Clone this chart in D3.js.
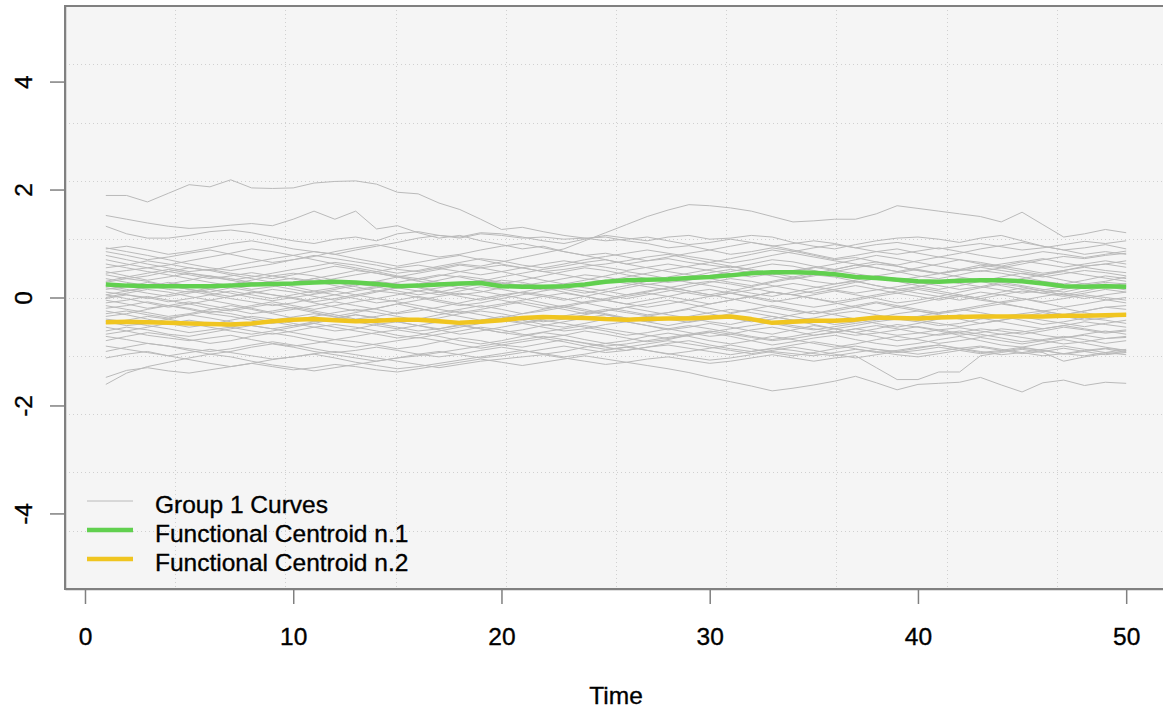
<!DOCTYPE html>
<html>
<head>
<meta charset="utf-8">
<script src="https://cdn.jsdelivr.net/npm/d3@7"></script>
<style>
  html, body { margin: 0; padding: 0; background: #ffffff; }
  svg { display: block; }
  text { font-family: "Liberation Sans", Arial, sans-serif; fill: #000; }
</style>
</head>
<body>
<svg id="chart" width="1163" height="713"></svg>
<script>
// Time grid of the functional observations
const time = d3.range(1, 51);

// Group 1 curves (one row per observed curve, values at Time = 1..50)
const groupCurves = [
  [1.89,1.89,1.77,1.93,2.09,2.05,2.18,2.03,2.02,2.03, 2.12,2.15,2.16,2.10,1.95,1.92,1.75,1.63,1.45,1.26, 1.30,1.22,1.15,1.10,1.12,1.05,1.00,0.92,0.96,0.88, 0.80,0.85,0.92,0.86,0.78,0.70,0.74,0.66,0.60,0.68, 0.75,0.70,0.62,0.58,0.66,0.72,0.64,0.58,0.62,0.56],
  [1.52,1.45,1.38,1.32,1.28,1.30,1.34,1.37,1.33,1.45, 1.60,1.45,1.60,1.27,1.33,1.20,1.10,1.15,1.05,0.98, 0.90,0.95,0.85,0.78,0.82,0.75,0.68,0.72,0.65,0.60, 0.55,0.62,0.70,0.66,0.58,0.52,0.60,0.66,0.58,0.50, 0.45,0.52,0.60,0.55,0.48,0.42,0.50,0.56,0.50,0.46],
  [1.32,1.18,1.10,1.10,1.15,1.22,1.25,1.20,1.12,1.05, 1.00,1.08,1.12,1.05,1.18,1.22,1.15,1.10,1.18,1.15, 1.10,1.12,1.08,1.10,1.05,1.08,1.12,1.05,0.98,1.02, 1.08,1.02,0.95,1.00,1.05,1.00,0.92,0.98,1.02,0.96, 0.90,0.95,1.00,0.94,0.88,0.92,0.98,1.04,1.00,1.05],
  [0.92,0.85,0.78,0.70,0.62,0.55,0.50,0.56,0.62,0.70, 0.78,0.72,0.66,0.60,0.52,0.48,0.55,0.62,0.58,0.66, 0.74,0.82,0.90,1.05,1.20,1.35,1.50,1.62,1.72,1.70, 1.66,1.60,1.50,1.40,1.42,1.45,1.45,1.55,1.70,1.65, 1.60,1.55,1.50,1.40,1.58,1.35,1.12,1.18,1.26,1.20],
  [0.90,0.95,0.88,0.80,0.85,0.92,1.00,1.05,0.98,0.90, 0.85,0.80,0.88,0.95,1.02,1.10,1.15,1.12,1.20,1.18, 1.12,1.05,1.00,1.08,1.15,1.10,1.05,1.12,1.15,1.08, 1.10,1.15,1.12,1.02,0.95,0.90,0.98,1.05,1.10,1.12, 1.08,1.02,1.10,1.15,1.05,0.95,0.88,0.92,0.98,0.90],
  [0.85,0.78,0.70,0.75,0.82,0.88,0.80,0.72,0.65,0.70, 0.76,0.85,0.92,0.98,0.90,0.82,0.75,0.80,0.88,0.95, 1.00,0.92,0.85,0.78,0.70,0.62,0.68,0.75,0.82,0.88, 0.95,1.02,0.96,0.88,0.80,0.72,0.78,0.85,0.90,0.82, 0.75,0.82,0.90,0.96,1.02,0.95,0.88,0.80,0.85,0.80],
  [0.78,0.70,0.62,0.55,0.48,0.52,0.45,0.40,0.35,0.42, 0.50,0.58,0.52,0.45,0.38,0.32,0.40,0.48,0.55,0.60, 0.55,0.48,0.42,0.35,0.30,0.38,0.45,0.52,0.58,0.65, 0.72,0.80,0.88,0.82,0.75,0.68,0.62,0.55,0.48,0.40, 0.35,0.42,0.50,0.45,0.38,0.30,0.25,0.32,0.40,0.35],
  [0.70,0.62,0.55,0.60,0.68,0.75,0.82,0.90,0.85,0.78, 0.70,0.62,0.55,0.48,0.40,0.35,0.28,0.22,0.30,0.38, 0.45,0.52,0.58,0.65,0.70,0.62,0.55,0.48,0.42,0.35, 0.28,0.22,0.30,0.38,0.45,0.52,0.60,0.55,0.48,0.55, 0.62,0.70,0.65,0.58,0.52,0.45,0.50,0.58,0.62,0.68],
  [0.62,0.55,0.48,0.42,0.35,0.28,0.22,0.15,0.20,0.28, 0.35,0.42,0.50,0.45,0.38,0.30,0.25,0.18,0.12,0.05, 0.10,0.18,0.25,0.32,0.40,0.48,0.42,0.35,0.28,0.22, 0.15,0.08,0.02,0.10,0.18,0.25,0.30,0.22,0.15,0.08, 0.02,-0.05,0.02,0.10,0.18,0.12,0.05,-0.02,0.05,0.10],
  [0.55,0.60,0.68,0.62,0.55,0.50,0.58,0.65,0.72,0.78, 0.85,0.80,0.72,0.65,0.58,0.65,0.72,0.78,0.70,0.62, 0.55,0.48,0.52,0.58,0.62,0.68,0.75,0.80,0.72,0.65, 0.58,0.50,0.42,0.48,0.55,0.62,0.70,0.78,0.72,0.65, 0.58,0.52,0.48,0.55,0.62,0.70,0.76,0.72,0.78,0.82],
  [0.48,0.40,0.32,0.38,0.45,0.40,0.32,0.25,0.30,0.36, 0.30,0.22,0.15,0.20,0.28,0.35,0.42,0.38,0.30,0.25, 0.32,0.40,0.48,0.55,0.50,0.42,0.35,0.28,0.32,0.40, 0.48,0.55,0.62,0.58,0.50,0.42,0.35,0.40,0.46,0.52, 0.45,0.38,0.32,0.28,0.35,0.42,0.48,0.42,0.36,0.30],
  [0.42,0.35,0.40,0.48,0.55,0.50,0.42,0.35,0.28,0.20, 0.12,0.18,0.25,0.20,0.12,0.05,0.10,0.18,0.25,0.32, 0.28,0.20,0.15,0.08,0.15,0.22,0.30,0.38,0.45,0.52, 0.58,0.52,0.45,0.38,0.30,0.25,0.32,0.40,0.35,0.28, 0.22,0.15,0.20,0.28,0.22,0.15,0.10,0.18,0.25,0.20],
  [0.35,0.28,0.22,0.15,0.10,0.18,0.25,0.32,0.40,0.45, 0.40,0.32,0.25,0.30,0.38,0.45,0.52,0.60,0.55,0.48, 0.40,0.32,0.25,0.18,0.12,0.05,0.10,0.18,0.25,0.30, 0.25,0.18,0.10,0.05,0.12,0.20,0.28,0.35,0.30,0.22, 0.15,0.22,0.30,0.38,0.45,0.40,0.32,0.25,0.30,0.38],
  [0.28,0.35,0.30,0.22,0.15,0.08,0.02,0.08,0.15,0.10, 0.02,-0.05,0.02,0.10,0.18,0.12,0.05,0.12,0.20,0.15, 0.08,0.02,-0.05,0.02,0.10,0.18,0.25,0.20,0.12,0.05, 0.12,0.20,0.28,0.35,0.42,0.38,0.30,0.22,0.15,0.20, 0.28,0.35,0.30,0.22,0.15,0.08,0.15,0.22,0.28,0.25],
  [0.22,0.15,0.08,0.02,0.08,0.15,0.22,0.28,0.22,0.15, 0.08,0.15,0.22,0.30,0.25,0.18,0.10,0.02,-0.05,0.02, 0.10,0.05,-0.02,-0.10,-0.05,0.02,0.08,0.02,-0.05,-0.12, -0.05,0.02,0.10,0.05,-0.02,-0.08,-0.02,0.05,0.12,0.18, 0.12,0.05,-0.02,0.05,0.12,0.08,0.02,0.08,0.15,0.10],
  [0.15,0.20,0.28,0.22,0.15,0.10,0.18,0.12,0.05,0.00, -0.08,-0.02,0.05,0.12,0.08,0.00,-0.08,-0.15,-0.10,-0.02, 0.05,0.12,0.18,0.12,0.05,-0.02,0.05,0.12,0.20,0.28, 0.35,0.30,0.22,0.15,0.08,0.15,0.22,0.15,0.08,0.02, -0.05,0.02,0.10,0.05,-0.02,-0.08,-0.02,0.05,0.00,-0.05],
  [0.10,0.05,-0.02,0.05,0.12,0.05,-0.02,-0.08,-0.15,-0.10, -0.02,0.05,0.12,0.18,0.25,0.20,0.12,0.05,0.10,0.18, 0.25,0.18,0.10,0.02,-0.05,-0.12,-0.05,0.02,0.10,0.15, 0.08,0.00,-0.08,-0.02,0.05,0.12,0.05,-0.02,-0.10,-0.05, 0.02,0.10,0.18,0.25,0.20,0.12,0.05,0.12,0.20,0.26],
  [0.05,-0.02,-0.10,-0.18,-0.12,-0.05,0.02,0.10,0.05,-0.02, -0.10,-0.18,-0.25,-0.20,-0.12,-0.05,0.02,0.08,0.02,-0.05, -0.12,-0.20,-0.15,-0.08,-0.02,0.05,0.12,0.18,0.12,0.05, -0.02,-0.10,-0.18,-0.25,-0.30,-0.22,-0.15,-0.08,-0.15,-0.22, -0.28,-0.22,-0.15,-0.08,-0.02,-0.10,-0.18,-0.12,-0.05,0.00],
  [0.00,0.08,0.15,0.10,0.02,-0.05,-0.12,-0.20,-0.28,-0.22, -0.15,-0.08,-0.15,-0.22,-0.30,-0.25,-0.18,-0.10,-0.02,0.05, -0.02,-0.10,-0.18,-0.25,-0.32,-0.40,-0.35,-0.28,-0.20,-0.12, -0.05,0.02,0.10,0.05,-0.02,-0.10,-0.18,-0.25,-0.18,-0.10, -0.02,0.05,-0.02,-0.10,-0.18,-0.25,-0.32,-0.25,-0.18,-0.22],
  [-0.05,-0.12,-0.20,-0.15,-0.08,-0.15,-0.22,-0.30,-0.25,-0.18, -0.25,-0.32,-0.40,-0.35,-0.28,-0.20,-0.28,-0.35,-0.42,-0.38, -0.30,-0.22,-0.15,-0.22,-0.30,-0.38,-0.45,-0.52,-0.45,-0.38, -0.30,-0.22,-0.28,-0.35,-0.42,-0.50,-0.45,-0.38,-0.30,-0.25, -0.32,-0.40,-0.48,-0.42,-0.35,-0.28,-0.35,-0.42,-0.38,-0.32],
  [-0.10,-0.05,0.02,-0.05,-0.12,-0.20,-0.25,-0.18,-0.12,-0.20, -0.28,-0.35,-0.28,-0.20,-0.12,-0.20,-0.28,-0.22,-0.15,-0.22, -0.30,-0.25,-0.18,-0.10,-0.18,-0.25,-0.32,-0.28,-0.22,-0.30, -0.38,-0.45,-0.40,-0.32,-0.25,-0.32,-0.40,-0.48,-0.55,-0.48, -0.40,-0.32,-0.38,-0.45,-0.52,-0.58,-0.52,-0.45,-0.50,-0.55],
  [-0.15,-0.22,-0.28,-0.35,-0.30,-0.22,-0.15,-0.22,-0.30,-0.38, -0.45,-0.40,-0.32,-0.38,-0.45,-0.52,-0.58,-0.50,-0.42,-0.35, -0.42,-0.50,-0.55,-0.48,-0.40,-0.45,-0.52,-0.60,-0.55,-0.48, -0.55,-0.62,-0.68,-0.60,-0.52,-0.58,-0.65,-0.58,-0.50,-0.55, -0.62,-0.70,-0.65,-0.58,-0.62,-0.70,-0.75,-0.68,-0.62,-0.68],
  [-0.20,-0.15,-0.08,-0.15,-0.22,-0.30,-0.35,-0.42,-0.48,-0.42, -0.35,-0.28,-0.22,-0.28,-0.35,-0.42,-0.38,-0.30,-0.25,-0.30, -0.38,-0.45,-0.40,-0.32,-0.25,-0.18,-0.25,-0.32,-0.38,-0.45, -0.50,-0.42,-0.35,-0.42,-0.50,-0.58,-0.52,-0.45,-0.40,-0.45, -0.52,-0.48,-0.40,-0.35,-0.42,-0.50,-0.45,-0.38,-0.42,-0.48],
  [-0.25,-0.32,-0.40,-0.48,-0.55,-0.50,-0.42,-0.35,-0.40,-0.48, -0.55,-0.62,-0.58,-0.50,-0.45,-0.52,-0.60,-0.68,-0.62,-0.55, -0.48,-0.42,-0.48,-0.55,-0.62,-0.70,-0.65,-0.58,-0.52,-0.58, -0.65,-0.72,-0.78,-0.72,-0.65,-0.58,-0.65,-0.72,-0.80,-0.75, -0.68,-0.62,-0.68,-0.75,-0.82,-0.78,-0.72,-0.78,-0.85,-0.80],
  [-0.30,-0.25,-0.32,-0.38,-0.32,-0.25,-0.30,-0.38,-0.45,-0.52, -0.48,-0.40,-0.45,-0.52,-0.58,-0.52,-0.45,-0.50,-0.58,-0.65, -0.60,-0.52,-0.45,-0.38,-0.32,-0.38,-0.45,-0.40,-0.35,-0.28, -0.22,-0.28,-0.35,-0.42,-0.38,-0.30,-0.25,-0.32,-0.40,-0.35, -0.28,-0.22,-0.28,-0.35,-0.30,-0.25,-0.20,-0.28,-0.35,-0.30],
  [-0.40,-0.45,-0.52,-0.58,-0.65,-0.60,-0.55,-0.62,-0.68,-0.62, -0.55,-0.50,-0.55,-0.62,-0.70,-0.75,-0.68,-0.62,-0.55,-0.60, -0.68,-0.75,-0.70,-0.62,-0.68,-0.75,-0.82,-0.78,-0.70,-0.65, -0.72,-0.80,-0.88,-0.82,-0.75,-0.70,-0.78,-0.85,-0.90,-0.85, -0.78,-0.72,-0.80,-0.88,-0.92,-0.85,-0.78,-0.85,-0.92,-0.98],
  [-0.48,-0.42,-0.35,-0.40,-0.48,-0.55,-0.62,-0.68,-0.62,-0.55, -0.48,-0.55,-0.62,-0.68,-0.75,-0.70,-0.62,-0.55,-0.48,-0.42, -0.48,-0.55,-0.62,-0.58,-0.50,-0.45,-0.52,-0.58,-0.65,-0.72, -0.68,-0.60,-0.55,-0.62,-0.70,-0.65,-0.58,-0.52,-0.58,-0.65, -0.70,-0.65,-0.58,-0.62,-0.68,-0.62,-0.55,-0.60,-0.66,-0.62],
  [-0.55,-0.62,-0.70,-0.75,-0.80,-0.75,-0.70,-0.78,-0.85,-0.90, -0.85,-0.78,-0.82,-0.88,-0.95,-0.90,-0.82,-0.75,-0.80,-0.88, -0.92,-0.85,-0.78,-0.85,-0.92,-0.98,-0.92,-0.85,-0.80,-0.88, -0.95,-1.00,-0.95,-0.88,-0.82,-0.88,-0.95,-1.02,-0.98,-0.92, -0.88,-0.95,-1.02,-0.98,-0.92,-0.98,-1.05,-1.00,-0.95,-1.02],
  [-0.62,-0.55,-0.60,-0.68,-0.72,-0.65,-0.58,-0.52,-0.58,-0.65, -0.72,-0.78,-0.72,-0.65,-0.60,-0.66,-0.72,-0.80,-0.86,-0.80, -0.72,-0.65,-0.70,-0.78,-0.85,-0.80,-0.72,-0.66,-0.72,-0.80, -0.86,-0.80,-0.72,-0.78,-0.85,-0.92,-0.86,-0.78,-0.72,-0.78, -0.85,-0.80,-0.74,-0.80,-0.86,-0.80,-0.74,-0.70,-0.76,-0.74],
  [-0.72,-0.78,-0.85,-0.90,-0.95,-1.00,-0.95,-0.88,-0.82,-0.88, -0.95,-1.02,-0.98,-0.92,-0.98,-1.05,-1.10,-1.05,-0.98,-0.92, -0.98,-1.05,-1.00,-0.92,-0.85,-0.90,-0.98,-1.05,-1.00,-0.94, -0.88,-0.95,-1.02,-1.08,-1.02,-0.95,-0.90,-0.96,-1.02,-0.98, -0.92,-0.98,-1.04,-1.00,-0.94,-0.98,-1.04,-1.08,-1.02,-0.96],
  [-0.80,-0.72,-0.65,-0.70,-0.78,-0.85,-0.80,-0.72,-0.66,-0.72, -0.80,-0.86,-0.92,-0.86,-0.80,-0.74,-0.80,-0.88,-0.94,-0.88, -0.82,-0.76,-0.82,-0.90,-0.96,-0.92,-0.86,-0.80,-0.86,-0.92, -0.98,-1.04,-0.98,-0.92,-0.98,-1.05,-1.12,-1.06,-1.00,-0.94, -0.88,-0.94,-1.00,-1.06,-1.02,-0.96,-0.90,-0.96,-1.02,-1.06],
  [-1.00,-0.92,-0.85,-0.90,-0.98,-1.05,-1.00,-0.92,-0.86,-0.92, -1.00,-1.06,-1.12,-1.18,-1.12,-1.05,-1.00,-1.06,-1.12,-1.08, -1.02,-0.96,-0.90,-0.96,-1.02,-0.98,-0.92,-0.88,-0.94,-1.00, -1.06,-1.00,-0.94,-0.98,-1.04,-1.08,-1.02,-0.96,-1.00,-1.05, -1.00,-0.94,-0.90,-0.96,-1.02,-1.08,-1.04,-0.98,-0.94,-0.98],
  [-1.12,-1.05,-1.00,-1.08,-1.15,-1.22,-1.28,-1.22,-1.15,-1.10, -1.05,-1.12,-1.20,-1.26,-1.32,-1.28,-1.22,-1.16,-1.10,-1.04, -0.98,-1.04,-1.10,-1.05,-0.98,-0.92,-0.98,-1.04,-1.10,-1.16, -1.12,-1.06,-1.00,-1.04,-1.08,-1.02,-0.96,-1.00,-1.06,-1.10, -1.04,-0.98,-0.92,-0.98,-1.04,-1.00,-0.94,-1.00,-1.06,-1.02],
  [-1.61,-1.40,-1.28,-1.20,-1.12,-1.05,-1.10,-1.18,-1.25,-1.30, -1.36,-1.30,-1.24,-1.18,-1.12,-1.08,-1.02,-0.96,-0.90,-0.84, -0.78,-0.72,-0.78,-0.84,-0.90,-0.86,-0.80,-0.74,-0.68,-0.62, -0.68,-0.74,-0.80,-0.76,-0.70,-0.64,-0.58,-0.64,-0.70,-0.66, -0.60,-0.56,-0.62,-0.68,-0.64,-0.58,-0.52,-0.58,-0.64,-0.60],
  [-1.48,-1.35,-1.30,-1.36,-1.40,-1.34,-1.28,-1.22,-1.28,-1.34, -1.30,-1.24,-1.28,-1.34,-1.38,-1.32,-1.26,-1.20,-1.14,-1.20, -1.26,-1.20,-1.14,-1.08,-1.14,-1.20,-1.14,-1.10,-1.16,-1.22, -1.18,-1.12,-1.06,-1.12,-1.18,-1.12,-1.08,-1.30,-1.52,-1.52, -1.38,-1.38,-1.08,-1.02,-0.96,-1.02,-1.18,-1.10,-1.04,-1.00],
  [-0.90,-0.96,-1.02,-1.08,-1.02,-0.96,-1.02,-1.08,-1.14,-1.10, -1.04,-1.00,-1.06,-1.12,-1.18,-1.24,-1.30,-1.24,-1.18,-1.14, -1.10,-1.06,-1.12,-1.18,-1.24,-1.20,-1.26,-1.32,-1.39,-1.48, -1.56,-1.64,-1.73,-1.68,-1.62,-1.55,-1.46,-1.58,-1.71,-1.61, -1.59,-1.57,-1.48,-1.62,-1.75,-1.58,-1.53,-1.63,-1.57,-1.59],
  [-0.35,-0.30,-0.22,-0.15,-0.20,-0.28,-0.22,-0.15,-0.08,-0.15, -0.22,-0.15,-0.08,-0.02,-0.08,-0.15,-0.22,-0.28,-0.22,-0.15, -0.08,-0.15,-0.22,-0.30,-0.25,-0.18,-0.12,-0.05,-0.12,-0.20, -0.28,-0.22,-0.15,-0.22,-0.30,-0.25,-0.18,-0.10,-0.18,-0.25, -0.30,-0.25,-0.18,-0.12,-0.18,-0.25,-0.32,-0.25,-0.18,-0.15],
  [0.30,0.38,0.45,0.52,0.45,0.38,0.32,0.38,0.45,0.52, 0.58,0.65,0.60,0.52,0.45,0.50,0.58,0.65,0.72,0.68, 0.60,0.55,0.62,0.70,0.76,0.82,0.88,0.82,0.76,0.70, 0.64,0.70,0.78,0.85,0.92,0.98,0.92,0.85,0.80,0.86, 0.92,0.85,0.78,0.72,0.78,0.85,0.80,0.74,0.80,0.86],
  [0.18,0.12,0.18,0.25,0.32,0.40,0.35,0.28,0.22,0.28, 0.35,0.28,0.20,0.12,0.18,0.25,0.32,0.40,0.35,0.28, 0.22,0.28,0.35,0.42,0.38,0.30,0.24,0.30,0.38,0.46, 0.52,0.46,0.40,0.34,0.40,0.48,0.55,0.62,0.58,0.50, 0.44,0.50,0.56,0.50,0.44,0.38,0.44,0.50,0.46,0.40],
  [-0.02,0.05,0.00,-0.08,-0.02,0.05,0.12,0.05,-0.02,0.05, 0.12,0.05,-0.02,-0.10,-0.05,0.02,-0.05,-0.12,-0.18,-0.12, -0.05,0.02,0.08,0.02,-0.05,-0.12,-0.18,-0.12,-0.05,0.02, 0.08,0.02,-0.05,-0.12,-0.18,-0.12,-0.05,0.02,0.08,0.15, 0.08,0.02,-0.05,-0.10,-0.05,0.02,0.08,0.02,-0.04,-0.10],
  [-0.45,-0.52,-0.48,-0.40,-0.32,-0.38,-0.45,-0.52,-0.58,-0.52, -0.45,-0.38,-0.32,-0.38,-0.45,-0.40,-0.32,-0.25,-0.32,-0.40, -0.46,-0.40,-0.34,-0.28,-0.22,-0.28,-0.34,-0.40,-0.46,-0.40, -0.34,-0.40,-0.48,-0.55,-0.60,-0.54,-0.48,-0.42,-0.36,-0.42, -0.48,-0.54,-0.48,-0.42,-0.36,-0.42,-0.48,-0.54,-0.48,-0.42],
  [0.45,0.50,0.55,0.48,0.42,0.35,0.40,0.46,0.40,0.34, 0.28,0.35,0.42,0.48,0.55,0.60,0.54,0.48,0.42,0.48, 0.55,0.62,0.68,0.62,0.56,0.50,0.56,0.62,0.56,0.50, 0.44,0.38,0.44,0.50,0.56,0.50,0.44,0.38,0.32,0.38, 0.44,0.50,0.56,0.62,0.68,0.62,0.56,0.62,0.68,0.62],
  [-0.68,-0.62,-0.55,-0.48,-0.42,-0.48,-0.55,-0.48,-0.42,-0.36, -0.30,-0.36,-0.42,-0.48,-0.55,-0.62,-0.58,-0.52,-0.58,-0.65, -0.70,-0.64,-0.58,-0.52,-0.58,-0.64,-0.70,-0.76,-0.70,-0.64, -0.58,-0.52,-0.46,-0.52,-0.58,-0.64,-0.70,-0.66,-0.60,-0.54, -0.60,-0.66,-0.72,-0.68,-0.74,-0.80,-0.86,-0.82,-0.76,-0.72],
  [0.05,0.12,0.20,0.28,0.22,0.15,0.08,0.00,-0.06,0.00, 0.06,0.12,0.05,-0.02,0.05,0.12,0.18,0.25,0.32,0.26, 0.20,0.14,0.20,0.26,0.32,0.26,0.20,0.14,0.08,0.02, 0.08,0.14,0.20,0.26,0.20,0.14,0.08,0.14,0.20,0.26, 0.32,0.26,0.20,0.14,0.08,0.14,0.20,0.26,0.20,0.14]
];

// Functional centroids
const centroid1 = [0.24,0.22,0.21,0.21,0.21,0.21,0.22,0.24,0.25,0.26, 0.28,0.29,0.28,0.25,0.21,0.22,0.24,0.26,0.27,0.21, 0.20,0.20,0.21,0.24,0.29,0.32,0.33,0.34,0.36,0.38, 0.41,0.45,0.47,0.47,0.46,0.43,0.38,0.36,0.33,0.30, 0.29,0.31,0.32,0.32,0.30,0.26,0.21,0.20,0.21,0.20];
const centroid2 = [-0.46,-0.45,-0.46,-0.47,-0.48,-0.49,-0.50,-0.48,-0.44,-0.41, -0.40,-0.42,-0.44,-0.43,-0.41,-0.41,-0.44,-0.47,-0.45,-0.42, -0.38,-0.36,-0.37,-0.38,-0.40,-0.41,-0.40,-0.39,-0.39,-0.37, -0.35,-0.40,-0.47,-0.45,-0.43,-0.43,-0.41,-0.37,-0.38,-0.39, -0.37,-0.36,-0.35,-0.35,-0.35,-0.35,-0.34,-0.34,-0.33,-0.32];

// Axis ticks and legend entries
const xTicks = [0, 10, 20, 30, 40, 50];
const yTicks = [-4, -2, 0, 2, 4];
const legendLabels = ["Group 1 Curves", "Functional Centroid n.1", "Functional Centroid n.2"];
const xLabel = "Time";

// ---- layout ----
const svg = d3.select("#chart");
const W = 1163, H = 713;
const plot = { left: 65, right: 1167, top: 6, bottom: 589 };

// x covers 1..50 plus 4% padding; y covers -5..5 plus 4% padding
const x = d3.scaleLinear().domain([-0.96, 51.96]).range([plot.left, plot.right]);
const y = d3.scaleLinear().domain([-5.4, 5.4]).range([plot.bottom, plot.top]);

const frameColor = "#808080";
const fontSize = "24.5px";
const textStroke = 0.35;

svg.append("rect").attr("width", W).attr("height", H).attr("fill", "#ffffff");

svg.append("defs").append("clipPath").attr("id", "panel-clip")
  .append("rect")
  .attr("x", plot.left).attr("y", plot.top)
  .attr("width", plot.right - plot.left).attr("height", plot.bottom - plot.top);

// panel background
svg.append("rect")
  .attr("x", plot.left).attr("y", plot.top)
  .attr("width", plot.right - plot.left).attr("height", plot.bottom - plot.top)
  .attr("fill", "#f5f5f5");

// dotted grid: 10 equal cells in each direction
const xd = x.domain(), yd = y.domain();
const gridX = d3.range(1, 10).map(k => xd[0] + k * (xd[1] - xd[0]) / 10);
const gridY = d3.range(1, 10).map(k => yd[0] + k * (yd[1] - yd[0]) / 10);
const grid = svg.append("g").attr("clip-path", "url(#panel-clip)")
  .attr("stroke", "#d0d0d0").attr("stroke-width", 1).attr("stroke-dasharray", "1,3");
grid.selectAll("line.gx").data(gridX).join("line").attr("class", "gx")
  .attr("x1", d => Math.round(x(d)) + 0.5).attr("x2", d => Math.round(x(d)) + 0.5)
  .attr("y1", plot.top).attr("y2", plot.bottom);
grid.selectAll("line.gy").data(gridY).join("line").attr("class", "gy")
  .attr("y1", d => Math.round(y(d)) + 0.5).attr("y2", d => Math.round(y(d)) + 0.5)
  .attr("x1", plot.left).attr("x2", plot.right);

// curves
const line = d3.line().x((d, i) => x(time[i])).y(d => y(d));
const curves = svg.append("g").attr("clip-path", "url(#panel-clip)");
curves.selectAll("path.curve").data(groupCurves).join("path")
  .attr("class", "curve")
  .attr("d", line)
  .attr("fill", "none")
  .attr("stroke", "#bababa")
  .attr("stroke-width", 1);

const centroids = [
  { values: centroid1, color: "#61D04F" },
  { values: centroid2, color: "#F0C520" }
];
curves.selectAll("path.centroid").data(centroids).join("path")
  .attr("class", "centroid")
  .attr("d", d => line(d.values))
  .attr("fill", "none")
  .attr("stroke", d => d.color)
  .attr("stroke-width", 4.5)
  .attr("stroke-linejoin", "round");

// frame
svg.append("rect")
  .attr("x", plot.left).attr("y", plot.top)
  .attr("width", plot.right - plot.left).attr("height", plot.bottom - plot.top)
  .attr("fill", "none").attr("stroke", frameColor).attr("stroke-width", 2);

function styleLabel(sel) {
  sel.style("font-size", fontSize)
    .style("font-family", "Liberation Sans, Arial, sans-serif")
    .attr("fill", "#000")
    .attr("stroke", "#000")
    .attr("stroke-width", textStroke);
}

// x axis
const gx = svg.append("g").attr("transform", `translate(0,${plot.bottom})`)
  .call(d3.axisBottom(x).tickValues(xTicks).tickSize(15).tickSizeOuter(0).tickFormat(d => String(d)));
gx.select(".domain").attr("stroke", frameColor).attr("stroke-width", 1.5);
gx.selectAll(".tick line").attr("stroke", frameColor).attr("stroke-width", 1.5);
gx.selectAll(".tick text").attr("y", 56).attr("dy", 0).call(styleLabel);

// y axis with labels parallel to the axis
const gy = svg.append("g").attr("transform", `translate(${plot.left},0)`)
  .call(d3.axisLeft(y).tickValues(yTicks).tickSize(15).tickSizeOuter(0).tickFormat(d => String(d)));
gy.select(".domain").attr("stroke", frameColor).attr("stroke-width", 1.5);
gy.selectAll(".tick line").attr("stroke", frameColor).attr("stroke-width", 1.5);
gy.selectAll(".tick text")
  .attr("x", null).attr("dy", 0)
  .attr("text-anchor", "middle")
  .attr("transform", "translate(-33,0) rotate(-90)")
  .call(styleLabel);

// axis title
svg.append("text")
  .attr("x", (plot.left + plot.right) / 2).attr("y", 704)
  .attr("text-anchor", "middle")
  .text(xLabel)
  .call(styleLabel);

// legend
const legendStyles = [
  { color: "#bababa", width: 1 },
  { color: "#61D04F", width: 4.5 },
  { color: "#F0C520", width: 4.5 }
];
const legendRows = [501, 530, 559];
const legend = svg.append("g");
legendLabels.forEach((label, i) => {
  legend.append("line")
    .attr("x1", 87).attr("x2", 133)
    .attr("y1", legendRows[i]).attr("y2", legendRows[i])
    .attr("stroke", legendStyles[i].color).attr("stroke-width", legendStyles[i].width);
  legend.append("text")
    .attr("x", 155).attr("y", legendRows[i] + 11.5)
    .text(label)
    .call(styleLabel);
});
</script>
</body>
</html>
